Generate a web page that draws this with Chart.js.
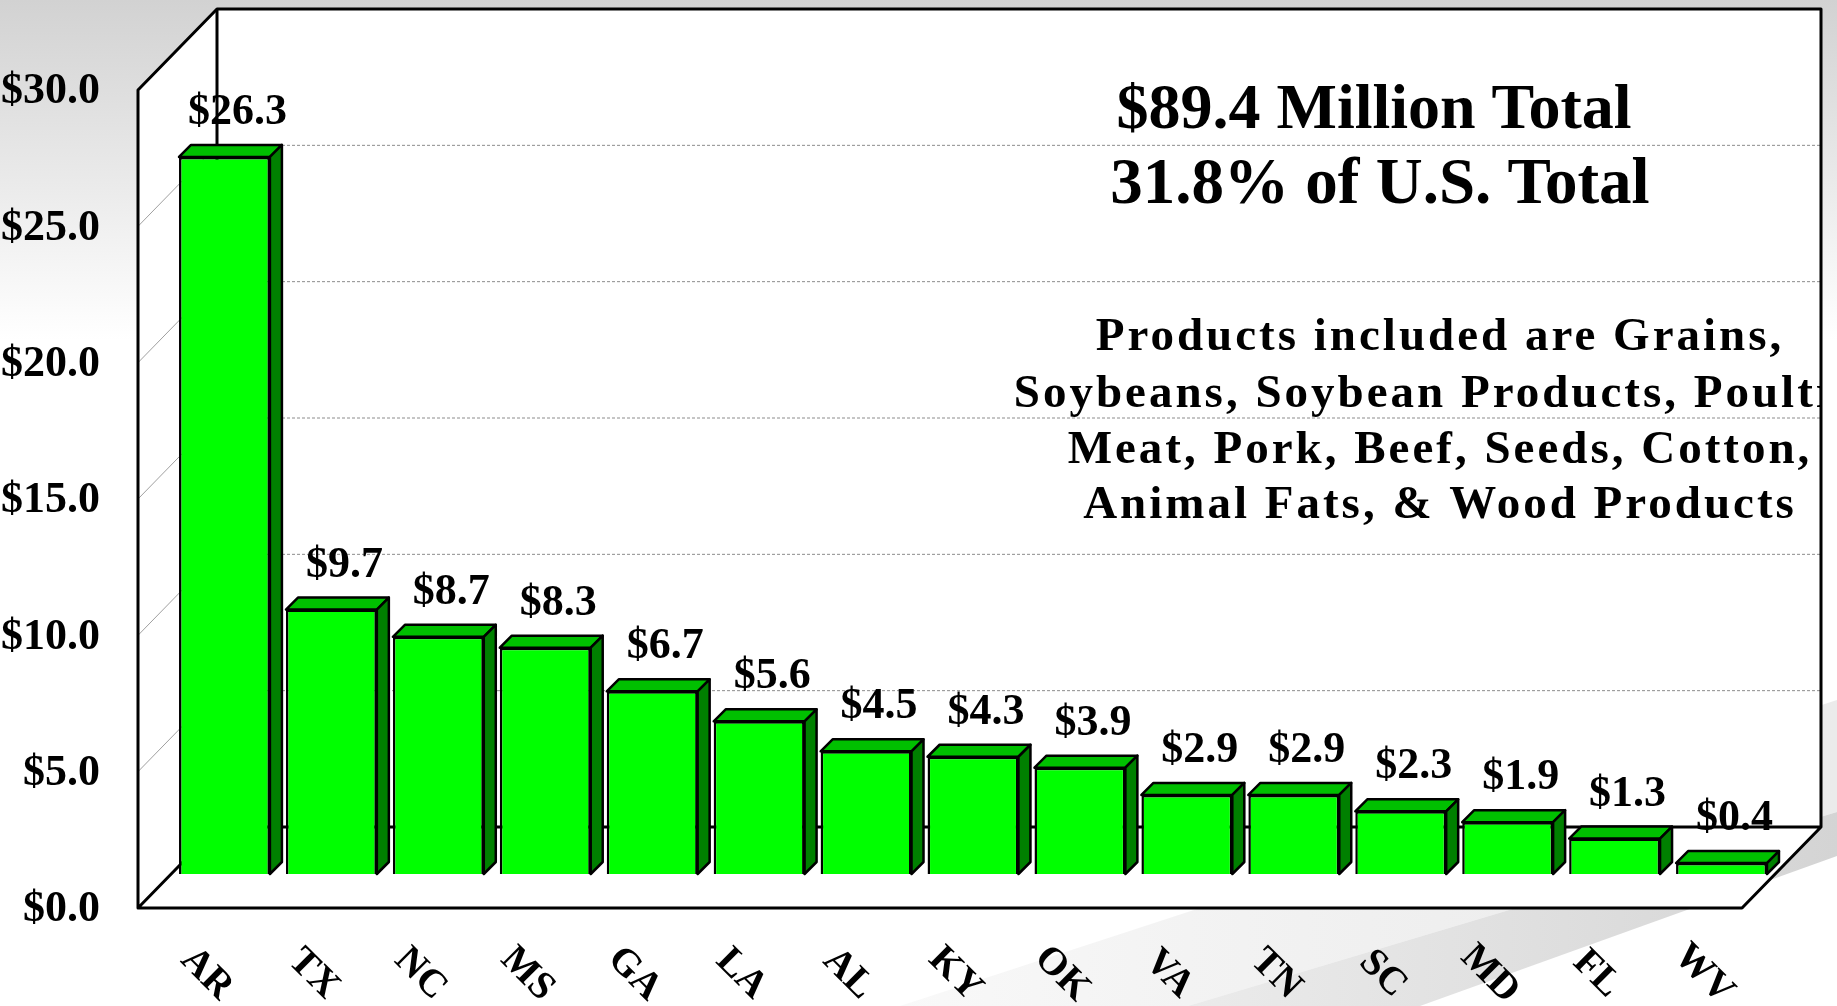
<!DOCTYPE html>
<html>
<head>
<meta charset="utf-8">
<title>Exports by state</title>
<script src="https://cdn.jsdelivr.net/npm/chart.js@4.4.0/dist/chart.umd.min.js"></script>
<style>
  html, body { margin: 0; padding: 0; background: #fff; overflow: hidden; }
  #wrap { width: 1837px; height: 1006px; }
</style>
</head>
<body>
<div id="wrap"><canvas id="chart" width="1837" height="1006"></canvas></div>
<script>
// data
const states = ['AR', 'TX', 'NC', 'MS', 'GA', 'LA', 'AL', 'KY', 'OK', 'VA', 'TN', 'SC', 'MD', 'FL', 'WV'];
const values = [26.3, 9.7, 8.7, 8.3, 6.7, 5.6, 4.5, 4.3, 3.9, 2.9, 2.9, 2.3, 1.9, 1.3, 0.4];
const yTicks = [0, 5, 10, 15, 20, 25, 30];
const headline = ['$89.4 Million Total', '31.8% of U.S. Total'];
const productLines = [
    'Products included are Grains,',
    'Soybeans, Soybean Products, Poultry',
    'Meat, Pork, Beef, Seeds, Cotton,',
    'Animal Fats, & Wood Products'
];

// fake 3d: offsets of the front and back planes from the bar plane
const FRONT = { x: -33, y: 34 };
const BACK = { x: 46, y: -47 };
const BAR_DEPTH = 12;
const SERIF = '"Liberation Serif", "Times New Roman", serif';

const money = v => '$' + v.toFixed(1);

function line(ctx, pts) {
    ctx.beginPath();
    ctx.moveTo(pts[0][0], pts[0][1]);
    for (let i = 1; i < pts.length; i++) ctx.lineTo(pts[i][0], pts[i][1]);
}

const box3d = {
    id: 'box3d',

    beforeDraw(chart) {
        const ctx = chart.ctx;
        const W = chart.width, H = chart.height;
        ctx.save();
        ctx.fillStyle = '#fff';
        ctx.fillRect(0, 0, W, H);
        const g = ctx.createLinearGradient(0, 0, 0, 340);
        g.addColorStop(0, '#d2d2d2');
        g.addColorStop(1, '#ffffff');
        ctx.fillStyle = g;
        ctx.fillRect(0, 0, W, 340);

        // swooshes in the lower right
        const g1 = ctx.createLinearGradient(900, 0, 1837, 0);
        g1.addColorStop(0, 'rgba(225,225,225,0.2)');
        g1.addColorStop(1, 'rgba(235,235,235,1)');
        ctx.fillStyle = g1;
        line(ctx, [[900, 1006], [1837, 700], [1837, 812], [1188, 1006]]);
        ctx.fill();
        const g2 = ctx.createLinearGradient(1188, 0, 1837, 0);
        g2.addColorStop(0, 'rgba(215,215,215,0.5)');
        g2.addColorStop(1, 'rgba(212,212,212,1)');
        ctx.fillStyle = g2;
        line(ctx, [[1188, 1006], [1837, 812], [1837, 856], [1420, 1006]]);
        ctx.fill();
        ctx.restore();
    },

    beforeDatasetsDraw(chart) {
        const ctx = chart.ctx;
        const a = chart.chartArea;
        const y = chart.scales.y;
        const L = a.left, R = a.right, T = a.top, B = a.bottom;
        const bl = L + BACK.x, br = R + BACK.x, bt = T + BACK.y, bb = B + BACK.y;
        const fl = L + FRONT.x, fr = R + FRONT.x, ft = T + FRONT.y, fb = B + FRONT.y;

        ctx.save();
        ctx.fillStyle = '#fff';
        ctx.fillRect(bl, bt, br - bl, bb - bt);
        line(ctx, [[fl, ft], [bl, bt], [bl, bb], [fl, fb]]);
        ctx.fill();
        line(ctx, [[fl, fb], [bl, bb], [br, bb], [fr, fb]]);
        ctx.fill();

        // grid lines on the back wall and on the left wall
        yTicks.forEach(v => {
            if (v === 0 || v === 30) return;
            const py = y.getPixelForValue(v);
            ctx.strokeStyle = '#8c8c8c';
            ctx.lineWidth = 1;
            ctx.setLineDash([3, 2]);
            line(ctx, [[bl, py + BACK.y], [br, py + BACK.y]]);
            ctx.stroke();
            ctx.setLineDash([]);
            ctx.strokeStyle = '#a0a0a0';
            line(ctx, [[fl, py + FRONT.y], [bl, py + BACK.y]]);
            ctx.stroke();
        });

        // notes written on the back wall
        ctx.save();
        ctx.beginPath();
        ctx.rect(bl, bt, br - bl, bb - bt);
        ctx.clip();
        ctx.fillStyle = '#000';
        ctx.textAlign = 'center';
        ctx.textBaseline = 'alphabetic';
        ctx.font = 'bold 64px ' + SERIF;
        ctx.fillText(headline[0], 1374, 128);
        ctx.font = 'bold 65px ' + SERIF;
        ctx.fillText(headline[1], 1380, 203);
        ctx.font = 'bold 47px ' + SERIF;
        ctx.letterSpacing = '3px';
        const base = [350, 407, 463, 518];
        productLines.forEach((t, i) => ctx.fillText(t, 1440, base[i]));
        ctx.letterSpacing = '0px';
        ctx.restore();

        // box outline
        ctx.strokeStyle = '#000';
        ctx.lineWidth = 3;
        ctx.lineJoin = 'round';
        line(ctx, [[fl, fb], [fl, ft], [bl, bt], [br, bt], [br, bb], [fr, fb], [fl, fb], [bl, bb], [br, bb]]);
        ctx.stroke();
        line(ctx, [[bl, bt], [bl, bb]]);
        ctx.stroke();
        ctx.restore();
    },

    afterDatasetsDraw(chart) {
        const ctx = chart.ctx;
        const meta = chart.getDatasetMeta(0);
        const ys = chart.scales.y;
        const d = BAR_DEPTH;
        ctx.save();
        ctx.lineWidth = 2.5;
        ctx.lineJoin = 'round';
        ctx.strokeStyle = '#000';
        meta.data.forEach((bar, i) => {
            const p = bar.getProps(['x', 'y', 'base', 'width'], true);
            const l = p.x - p.width / 2, r = p.x + p.width / 2;
            ctx.fillStyle = '#00c000';
            line(ctx, [[l, p.y], [l + d, p.y - d], [r + d, p.y - d], [r, p.y]]);
            ctx.closePath();
            ctx.fill();
            ctx.stroke();
            ctx.fillStyle = '#008000';
            line(ctx, [[r, p.y], [r + d, p.y - d], [r + d, p.base - d], [r, p.base]]);
            ctx.closePath();
            ctx.fill();
            ctx.stroke();

            ctx.fillStyle = '#000';
            ctx.font = 'bold 44px ' + SERIF;
            ctx.textAlign = 'center';
            ctx.textBaseline = 'alphabetic';
            ctx.fillText(money(values[i]), p.x + 13, p.y - d - 21);

            // category label, turned 45 degrees
            ctx.save();
            ctx.translate(p.x - 18, 974);
            ctx.rotate(Math.PI / 4);
            ctx.font = 'bold 39px ' + SERIF;
            ctx.textBaseline = 'middle';
            ctx.fillText(states[i], 0, 0);
            ctx.restore();
        });

        // value axis labels on the front plane
        ctx.fillStyle = '#000';
        ctx.font = 'bold 44px ' + SERIF;
        ctx.textAlign = 'right';
        ctx.textBaseline = 'middle';
        yTicks.forEach(v => {
            ctx.fillText(money(v), 100, ys.getPixelForValue(v) + FRONT.y + 2);
        });
        ctx.restore();
    }
};

new Chart(document.getElementById('chart'), {
    type: 'bar',
    data: {
        labels: states,
        datasets: [{
            data: values,
            backgroundColor: '#00ff00',
            borderColor: '#000',
            borderWidth: 2.5,
            barPercentage: 0.85,
            categoryPercentage: 1.0
        }]
    },
    options: {
        responsive: false,
        animation: false,
        layout: {
            padding: { left: 171, right: 62, top: 56, bottom: 132 }
        },
        plugins: {
            legend: { display: false },
            tooltip: { enabled: false }
        },
        scales: {
            x: { display: false, offset: true },
            y: { display: false, min: 0, max: 30 }
        }
    },
    plugins: [box3d]
});
</script>
</body>
</html>
